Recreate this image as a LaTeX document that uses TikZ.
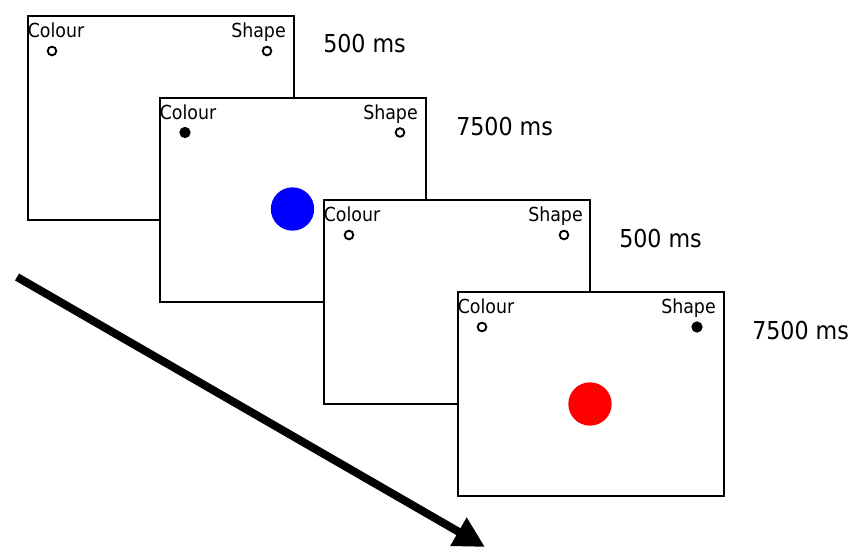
\documentclass[tikz,border=0pt]{standalone}
\usepackage{fontspec}
\setmainfont{DejaVu Sans Condensed}
\usetikzlibrary{arrows.meta}

\begin{document}
\begin{tikzpicture}[x=0.75pt,y=-0.75pt,
        screen/.style={rectangle,draw=black,fill=white,line width=1.5pt,inner sep=0pt,
                       minimum width=199.5pt,minimum height=153pt,anchor=north west},
        cue/.style={inner sep=0pt,font=\fontsize{14.5}{16}\selectfont},
        dot/.style={circle,draw=black,line width=1.4pt,fill=white,inner sep=0pt,minimum size=6.5pt},
        ondot/.style={circle,fill=black,inner sep=0pt,minimum size=8.5pt},
        dur/.style={inner sep=0pt,anchor=west,font=\fontsize{18.5}{21}\selectfont}]
                \useasboundingbox (0,0) rectangle (857,548);

                % first fixation screen
                \node (s1) at (27,15) [screen] {};
                \node (c1) at (27.5,38) [cue,anchor=base west] {Colour};
                \node (h1) at (286,38) [cue,anchor=base east] {Shape};
                \node (d1a) at (52,51) [dot] {};
                \node (d1b) at (267,51) [dot] {};
                \node (t1) at (323,44) [dur] {500 ms};

                % colour task, blue stimulus
                \node (s2) at (159,97) [screen] {};
                \node (c2) at (159.5,120) [cue,anchor=base west] {Colour};
                \node (h2) at (418,120) [cue,anchor=base east] {Shape};
                \node (d2a) at (185,132.5) [ondot] {};
                \node (d2b) at (400,132.5) [dot] {};
                \node (b2) at (292.5,209) [circle,fill=blue,inner sep=0pt,minimum size=32.5pt] {};
                \node (t2) at (456,127) [dur] {7500 ms};

                % second fixation screen
                \node (s3) at (323,199) [screen] {};
                \node (c3) at (323.5,222) [cue,anchor=base west] {Colour};
                \node (h3) at (583,222) [cue,anchor=base east] {Shape};
                \node (d3a) at (349,235) [dot] {};
                \node (d3b) at (564,235) [dot] {};
                \node (t3) at (619,239) [dur] {500 ms};

                % shape task, red stimulus
                \node (s4) at (457,291) [screen] {};
                \node (c4) at (457.5,314) [cue,anchor=base west] {Colour};
                \node (h4) at (716,314) [cue,anchor=base east] {Shape};
                \node (d4a) at (482,327) [dot] {};
                \node (d4b) at (697,327) [ondot] {};
                \node (r4) at (590,404) [circle,fill=red,inner sep=0pt,minimum size=32.5pt] {};
                \node (t4) at (752,331) [dur] {7500 ms};

                % time arrow
                \coordinate (a0) at (17,277);
                \coordinate (a1) at (485,547);
                \draw [line width=6pt,-{Triangle[length=23pt,width=23pt]}] (a0) -- (a1);
            \end{tikzpicture}
\end{document}
